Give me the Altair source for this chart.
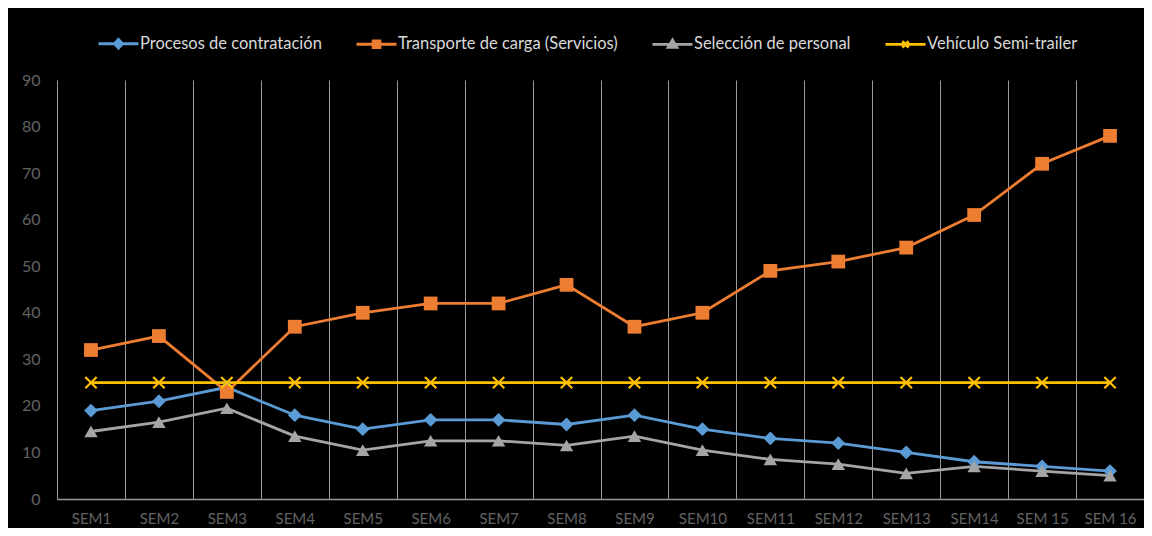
import altair as alt
import pandas as pd

weeks = ["SEM1", "SEM2", "SEM3", "SEM4", "SEM5", "SEM6", "SEM7", "SEM8",
         "SEM9", "SEM10", "SEM11", "SEM12", "SEM13", "SEM14", "SEM 15", "SEM 16"]
series = ["Procesos de contratación", "Transporte de carga (Servicios)",
          "Selección de personal", "Vehículo Semi-trailer"]
procesos = [19, 21, 24, 18, 15, 17, 17, 16, 18, 15, 13, 12, 10, 8, 7, 6]
transporte = [32, 35, 23, 37, 40, 42, 42, 46, 37, 40, 49, 51, 54, 61, 72, 78]
seleccion = [14.5, 16.5, 19.5, 13.5, 10.5, 12.5, 12.5, 11.5, 13.5, 10.5, 8.5, 7.5, 5.5, 7, 6, 5]
vehiculo = [25, 25, 25, 25, 25, 25, 25, 25, 25, 25, 25, 25, 25, 25, 25, 25]
colors = ["#5B9BD5", "#ED7D31", "#A5A5A5", "#FFC000"]

values = [procesos, transporte, seleccion, vehiculo]
rows = []
for s, vals in zip(series, values):
    for w, v in zip(weeks, vals):
        rows.append({"week": w, "series": s, "value": v})
df = pd.DataFrame(rows)

FONT = "Lato"
GRID = "#999999"
LABEL = "#626262"

x_enc = alt.X(
    "week:N", sort=weeks, bandPosition=0.5,
    scale=alt.Scale(type="band", paddingInner=0, paddingOuter=0),
    axis=alt.Axis(title=None, labelAngle=0, labelColor=LABEL, labelFontSize=15,
                  labelFont=FONT, ticks=False, tickSize=0, labelPadding=12,
                  grid=True, gridColor=GRID, gridWidth=1, tickBand="extent",
                  domainColor=GRID, domainWidth=1.5),
)
y_enc = alt.Y(
    "value:Q", scale=alt.Scale(domain=[0, 90], nice=False),
    axis=alt.Axis(title=None, grid=False, domain=False, ticks=False, tickSize=0,
                  labelPadding=17, labelColor=LABEL, labelFontSize=16, labelFont=FONT,
                  values=list(range(0, 100, 10))),
)
color_enc = alt.Color("series:N", scale=alt.Scale(domain=series, range=colors), legend=None)

base = alt.Chart(df).encode(x=x_enc, y=y_enc)

lines = base.mark_line(strokeWidth=2.8).encode(color=color_enc)

marker_specs = [
    (series[0], "diamond", 190, True),
    (series[1], "square", 190, True),
    (series[2], "triangle-up", 180, True),
    (series[3], "M-1,-1L1,1M-1,1L1,-1", 130, False),
]
point_layers = []
for name, shp, size, filled in marker_specs:
    point_layers.append(
        base.transform_filter(alt.datum.series == name)
        .mark_point(shape=shp, size=size, filled=filled, opacity=1, strokeWidth=2.2)
        .encode(color=color_enc)
    )

legend_paths = [
    "M-1,0L1,0M0,-0.22L0.2,0L0,0.22L-0.2,0Z",
    "M-1,0L1,0M-0.17,-0.17L0.17,-0.17L0.17,0.17L-0.17,0.17Z",
    "M-1,0L1,0M0,-0.22L0.22,0.15L-0.22,0.15Z",
    "M-1,0L1,0M-0.16,-0.16L0.16,0.16M-0.16,0.16L0.16,-0.16",
]
leg = alt.Legend(title=None, orient="none", legendX=40, legendY=-58, direction="horizontal",
                 symbolSize=1600, symbolStrokeWidth=2.8, labelColor="#D9D9D9",
                 labelFontSize=16.5, labelFont=FONT, labelOffset=0, columnPadding=28,
                 padding=0, labelLimit=400, symbolOpacity=1)
legend_layer = base.mark_point(filled=True, opacity=1, size=1, strokeWidth=0).encode(
    fill=alt.Fill("series:N", scale=alt.Scale(domain=series, range=colors), legend=leg),
    stroke=alt.Stroke("series:N", scale=alt.Scale(domain=series, range=colors), legend=leg),
    shape=alt.Shape("series:N", scale=alt.Scale(domain=series, range=legend_paths), legend=leg),
)

chart = alt.layer(legend_layer, lines, *point_layers).properties(
    width=1087, height=419,
    autosize=alt.AutoSizeParams(type="none"),
    padding={"left": 49, "top": 72, "right": 0, "bottom": 29},
    background="black",
).configure_view(stroke=None)

chart.save("out.html", embed_options={"renderer": "svg", "actions": False})
